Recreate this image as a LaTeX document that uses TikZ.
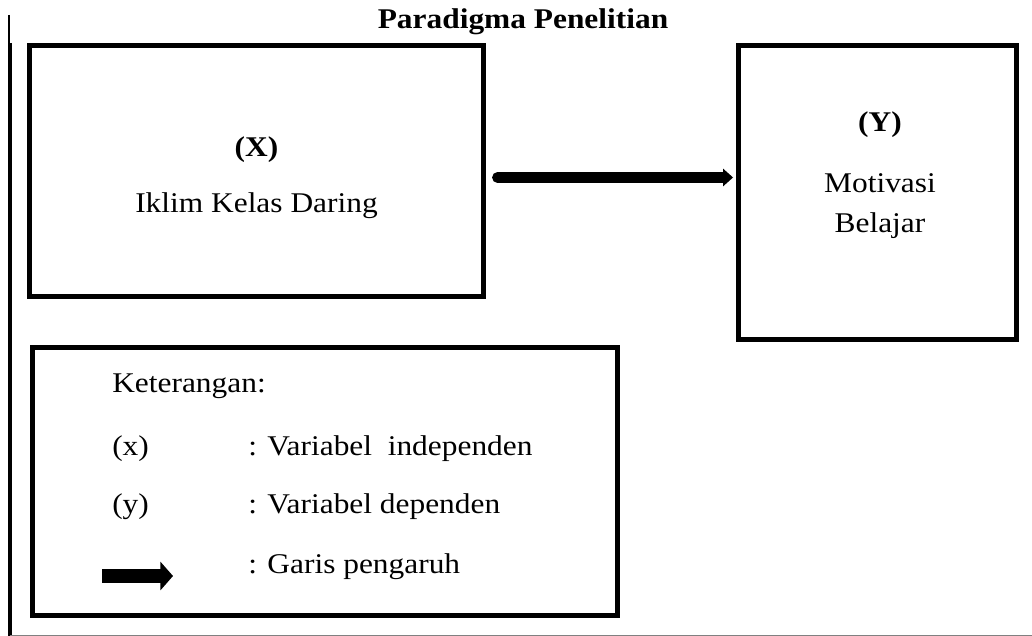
\documentclass[tikz,border=0pt]{standalone}
\usepackage{fontspec}
\setmainfont{Liberation Serif}[FakeStretch=1.1]
\usetikzlibrary{arrows.meta,calc,positioning}

\tikzset{
  box/.style={draw, line width=3.5pt, inner sep=0pt},
  txt/.style={font=\fontsize{20.3}{24}\selectfont, inner sep=0pt, anchor=base},
  influence/.style={line width=7.8pt, line cap=round, -{Triangle[length=7pt,width=12pt]}}
}

\begin{document}
\begin{tikzpicture}[>=Latex, x=0.025cm, y=-0.025cm]

  \useasboundingbox (0,0) rectangle (1032,636);

  % Page frame lines
  \draw[line width=1.4pt] (9,15) -- (9,43);
  \draw[line width=2.8pt] (10,43) -- (10,636);
  \draw[gray, line width=0.9pt] (10,635.5) -- (1032,635.5);

  % Title
  \node[txt, font=\fontsize{20.3}{24}\selectfont\bfseries] (title) at (523,29) {Paradigma Penelitian};

  % Variable boxes
  \node[box, minimum width=11.35cm, minimum height=6.275cm] (boxX) at (256.5,171) {};
  \node[box, minimum width=6.95cm, minimum height=7.35cm] (boxY) at (877.5,192.5) {};

  \node[txt, font=\fontsize{20.3}{24}\selectfont\bfseries] (labX) at (256.5,157) {(X)};
  \node[txt] (nameX) at (256.5,213) {Iklim Kelas Daring};

  \node[txt, font=\fontsize{20.3}{24}\selectfont\bfseries] (labY) at (880,132) {(Y)};
  \node[txt] (nameY1) at (880,193) {Motivasi};
  \node[txt] (nameY2) at (880,233) {Belajar};

  % Influence arrow
  \coordinate (arrowY) at (0,177.5);
  \draw[influence, shorten <=8.2pt, shorten >=2.1pt] (boxX.east |- arrowY) -- (boxY.west |- arrowY);

  % Legend
  \node[box, minimum width=14.625cm, minimum height=6.7cm] (legend) at (325,481.5) {};
  \node[txt, anchor=base west] (keter) at (112,392) {Keterangan:};
  \node[txt, anchor=base west] (symX) at (112,455) {(x)};
  \node[txt, anchor=base west] (descX) at (248,455) {: Variabel~ independen};
  \node[txt, anchor=base west] (symY) at (112,513) {(y)};
  \node[txt, anchor=base west] (descY) at (248,513) {: Variabel dependen};
  \node[txt, anchor=base west] (descArrow) at (248,573) {: Garis pengaruh};

  \coordinate (legArrowA) at (102,576);
  \coordinate (legArrowB) at (173,576);
  \draw[line width=10pt, -{Triangle[length=9pt,width=20pt]}] (legArrowA) -- (legArrowB);

\end{tikzpicture}
\end{document}
